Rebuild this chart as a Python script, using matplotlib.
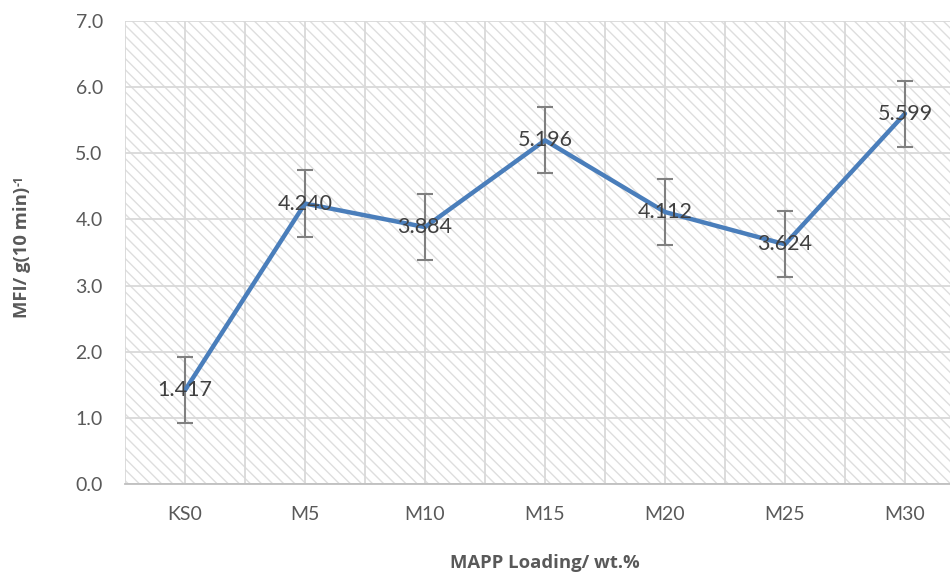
import matplotlib
matplotlib.use("Agg")
import matplotlib.pyplot as plt
from matplotlib.patches import Rectangle
import numpy as np

categories = ["KS0", "M5", "M10", "M15", "M20", "M25", "M30"]
mfi = [1.417, 4.240, 3.884, 5.196, 4.112, 3.624, 5.599]
errors = [0.5, 0.5, 0.5, 0.5, 0.5, 0.5, 0.5]
y_ticks = [0, 1, 2, 3, 4, 5, 6, 7]

plt.rcParams['font.family'] = ['Lato', 'DejaVu Sans']
plt.rcParams['hatch.linewidth'] = 1.0

fig = plt.figure(figsize=(9.5, 5.75), dpi=100)
ax = fig.add_axes([125/950, 1-484/575, 840/950, (484-21)/575])

x = np.arange(len(categories))
ax.set_xlim(-0.5, len(categories) - 0.5)
ax.set_ylim(0, 7)

# hatched background
ax.add_patch(Rectangle((0, 0), 1, 1, transform=ax.transAxes, fill=False,
                       hatch='\\\\\\', edgecolor='#dedede', linewidth=0, zorder=0))

ax.set_xticks(x)
ax.set_xticks(np.arange(-0.5, len(categories), 0.5), minor=True)
ax.set_xticklabels(categories)
ax.set_yticks(y_ticks)
ax.set_yticklabels([f"{v:.1f}" for v in y_ticks])
ax.grid(True, which='both', axis='x', color='#d9d9d9', linewidth=1.3, zorder=1)
ax.grid(True, which='major', axis='y', color='#d9d9d9', linewidth=1.3, zorder=1)
ax.set_axisbelow(True)

for s in ['left', 'right', 'top']:
    ax.spines[s].set_visible(False)
ax.spines['bottom'].set_color('#bfbfbf')
ax.spines['bottom'].set_linewidth(1.3)

ax.tick_params(axis='both', which='both', length=0, labelsize=14, labelcolor='#595959')
ax.tick_params(axis='y', pad=16)
ax.tick_params(axis='x', pad=16)

ax.errorbar(x, mfi, yerr=errors, fmt='none', ecolor='#808080', elinewidth=1.5,
            capsize=6, capthick=1.5, zorder=3)
ax.plot(x, mfi, color='#4a7ebb', linewidth=3.2, solid_capstyle='round', zorder=4)

for xi, v in zip(x, mfi):
    ax.text(xi, v, f"{v:.3f}", ha='center', va='center', fontsize=15.5,
            color='#404040', zorder=5)

ax.set_xlabel("MAPP Loading/ wt.%", fontsize=13.3, fontweight='bold',
              family=['Open Sans', 'DejaVu Sans'], color='#595959', labelpad=22)
ax.set_ylabel("MFI/ g(10 min)", fontsize=13.3, fontweight='bold',
              family=['Open Sans', 'DejaVu Sans'], color='#595959', labelpad=32)
fig.canvas.draw()
yl = ax.yaxis.label
bb = yl.get_window_extent()
inv = fig.transFigure.inverted()
(x0, y0), (x1, y1) = inv.transform([[bb.x0, bb.y0], [bb.x1, bb.y1]])
fig.text((x0 + x1) / 2 - 0.003, y1 + 0.002, "-1", rotation=90, ha='center', va='bottom',
         fontsize=8.5, fontweight='bold', family=['Open Sans', 'DejaVu Sans'],
         color='#595959')

fig.savefig("out.png", dpi=100)
